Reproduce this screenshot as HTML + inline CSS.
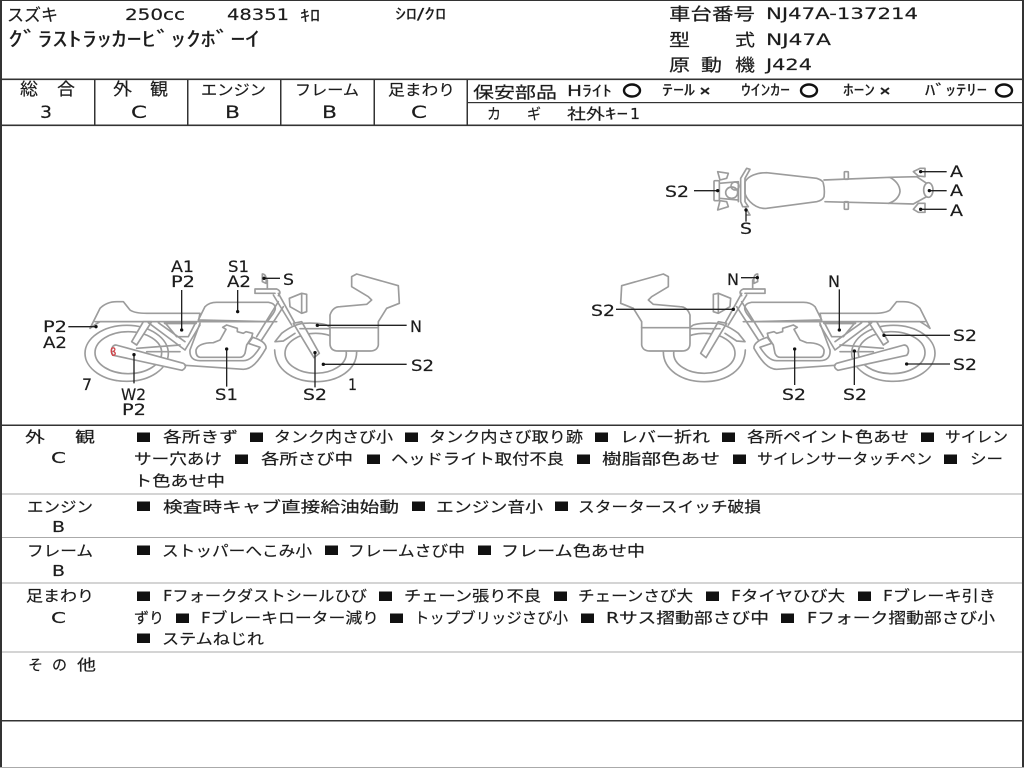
<!DOCTYPE html>
<html lang="ja"><head><meta charset="utf-8"><title>Inspection sheet</title>
<style>
html,body{margin:0;padding:0;background:#fff;width:1024px;height:768px;overflow:hidden}
svg{display:block}
text{font-family:"DejaVu Sans","Noto Sans CJK JP",sans-serif;font-size:15px;fill:#1c1c1c;stroke:#1c1c1c;stroke-width:.18}
.l text{font-size:16px}
.big text{font-size:17px}
.b{fill:none;stroke:#9c9c9c;stroke-width:5;stroke-linejoin:round;stroke-linecap:round}
.w{fill:#fff}
.ld{stroke:#222;stroke-width:4;fill:none}
.d{fill:#111}
</style></head><body>
<svg xmlns="http://www.w3.org/2000/svg" width="1024" height="768" viewBox="0 0 1024 768">
<rect width="1024" height="768" fill="#fff"/>
<g fill="#333">
<rect x="0" y="0" width="1024" height="1"/>
<rect x="0" y="0" width="2" height="768"/>
<rect x="1022" y="0" width="2" height="768"/>
<rect x="0" y="78.500" width="1024" height="1.600"/>
<rect x="0" y="124.500" width="1024" height="1.600"/>
<rect x="467" y="102" width="557" height="1.200"/>
<rect x="94" y="79" width="1.500" height="46"/>
<rect x="187" y="79" width="1.500" height="46"/>
<rect x="280" y="79" width="1.500" height="46"/>
<rect x="373.500" y="79" width="1.500" height="46"/>
<rect x="466.500" y="79" width="1.500" height="46"/>
<rect x="0" y="424.500" width="1024" height="1.500"/>
<rect x="0" y="720" width="1024" height="1.500"/>
</g>
<g fill="#aaa">
<rect x="2" y="493.500" width="1020" height="1"/>
<rect x="2" y="537" width="1020" height="1"/>
<rect x="2" y="582.500" width="1020" height="1"/>
<rect x="2" y="651.500" width="1020" height="1"/>
<rect x="0" y="767" width="1024" height="1"/>
</g>
<!-- header -->
<g>
<text x="7" y="21" style="font-size:17px" textLength="51" lengthAdjust="spacingAndGlyphs">スズキ</text>
<text x="125" y="20" style="font-size:16px" textLength="60" lengthAdjust="spacingAndGlyphs">250cc</text>
<text x="227" y="20" style="font-size:16px" textLength="62" lengthAdjust="spacingAndGlyphs">48351</text>
<text x="300" y="21" style="font-size:16px" textLength="20" lengthAdjust="spacingAndGlyphs">ｷﾛ</text>
<text x="395" y="19" textLength="51" lengthAdjust="spacingAndGlyphs">ｼﾛ/ｸﾛ</text>
<text x="8" y="46" style="font-size:20px" textLength="252" lengthAdjust="spacingAndGlyphs">ｸﾞﾗｽﾄﾗｯｶｰﾋﾞｯｸﾎﾞｰｲ</text>
<text x="669" y="20" style="font-size:17px" textLength="86" lengthAdjust="spacingAndGlyphs">車台番号</text>
<text x="766" y="19" style="font-size:16px" textLength="152" lengthAdjust="spacingAndGlyphs">NJ47A-137214</text>
<text x="669" y="46" style="font-size:17px" textLength="21" lengthAdjust="spacingAndGlyphs">型</text>
<text x="735" y="46" style="font-size:17px" textLength="20" lengthAdjust="spacingAndGlyphs">式</text>
<text x="766" y="45" style="font-size:16px" textLength="65" lengthAdjust="spacingAndGlyphs">NJ47A</text>
<text x="669" y="71" style="font-size:17px" textLength="21" lengthAdjust="spacingAndGlyphs">原</text>
<text x="701" y="71" style="font-size:17px" textLength="21" lengthAdjust="spacingAndGlyphs">動</text>
<text x="735" y="71" style="font-size:17px" textLength="20" lengthAdjust="spacingAndGlyphs">機</text>
<text x="766" y="70" style="font-size:16px" textLength="46" lengthAdjust="spacingAndGlyphs">J424</text>
</g>
<!-- rating row -->
<g>
<text x="20" y="95" style="font-size:17px" textLength="18" lengthAdjust="spacingAndGlyphs">総</text>
<text x="57" y="95" style="font-size:17px" textLength="18" lengthAdjust="spacingAndGlyphs">合</text>
<text x="113" y="95" style="font-size:17px" textLength="19" lengthAdjust="spacingAndGlyphs">外</text>
<text x="150" y="95" style="font-size:17px" textLength="18" lengthAdjust="spacingAndGlyphs">観</text>
<text x="201" y="95" textLength="65" lengthAdjust="spacingAndGlyphs">エンジン</text>
<text x="295" y="95" textLength="64" lengthAdjust="spacingAndGlyphs">フレーム</text>
<text x="388" y="95" textLength="67" lengthAdjust="spacingAndGlyphs">足まわり</text>
<g class="big">
<text x="40" y="118" textLength="12" lengthAdjust="spacingAndGlyphs">3</text>
<text x="131" y="118" textLength="16" lengthAdjust="spacingAndGlyphs">C</text>
<text x="225" y="118" textLength="15" lengthAdjust="spacingAndGlyphs">B</text>
<text x="322" y="118" textLength="15" lengthAdjust="spacingAndGlyphs">B</text>
<text x="411" y="118" textLength="16" lengthAdjust="spacingAndGlyphs">C</text>
</g>
<text x="473" y="98" style="font-size:16px" textLength="84" lengthAdjust="spacingAndGlyphs">保安部品</text>
<text x="567" y="96" textLength="45" lengthAdjust="spacingAndGlyphs">Hﾗｲﾄ</text>
<ellipse cx="632" cy="90.500" rx="8" ry="6" fill="none" stroke="#111" stroke-width="2.400"/>
<text x="662" y="95" textLength="33" lengthAdjust="spacingAndGlyphs">ﾃｰﾙ</text>
<path d="M701 88L709 94M709 88L701 94" stroke="#222" stroke-width="2"/>
<text x="741" y="95" textLength="49" lengthAdjust="spacingAndGlyphs">ｳｲﾝｶｰ</text>
<ellipse cx="809" cy="90.500" rx="8" ry="6" fill="none" stroke="#111" stroke-width="2.400"/>
<text x="843" y="95" textLength="32" lengthAdjust="spacingAndGlyphs">ﾎｰﾝ</text>
<path d="M881 88L889 94M889 88L881 94" stroke="#222" stroke-width="2"/>
<text x="925" y="95" textLength="62" lengthAdjust="spacingAndGlyphs">ﾊﾞｯﾃﾘｰ</text>
<ellipse cx="1004" cy="90.500" rx="8" ry="6" fill="none" stroke="#111" stroke-width="2.400"/>
<text x="487" y="119" textLength="14" lengthAdjust="spacingAndGlyphs">カ</text>
<text x="527" y="119" textLength="14" lengthAdjust="spacingAndGlyphs">ギ</text>
<text x="567" y="119" textLength="38" lengthAdjust="spacingAndGlyphs">社外</text>
<text x="605" y="119" textLength="23" lengthAdjust="spacingAndGlyphs">ｷｰ</text>
<text x="630" y="119" textLength="10" lengthAdjust="spacingAndGlyphs">1</text>
</g>
<!-- motorcycle artwork -->
<defs>
<g id="bike">
<ellipse class="b" cx="290" cy="310" rx="125" ry="84"/>
<ellipse class="b" cx="295" cy="308" rx="100" ry="63"/>
<path class="b" d="M734 300C736 360 790 395 857 395C925 395 980 360 980 305"/>
<ellipse class="b" cx="857" cy="310" rx="92" ry="60"/>
<path class="b w" d="M180 235L210 175C225 160 245 155 260 155L280 155L300 180C310 187 330 190 350 190L510 190L505 215L210 215C198 222 188 228 180 235Z"/>
<path class="b w" d="M505 210L525 170C535 160 548 157 560 157L715 157C735 160 742 172 730 190L712 215Z"/>
<path class="b" d="M195 215L740 215"/>
<path class="b w" d="M305 275L340 215L365 215L320 285Z"/>
<path class="b" d="M355 218L465 300L510 225M385 218L465 275M405 218L440 260L475 260L497 218"/>
<path class="b" d="M405 219L497 219" style="stroke-width:8"/>
<path class="b" d="M320 295L450 285M350 305L450 305"/>
<path class="b w" d="M258 285L460 340C470 345 468 355 456 361L250 316C240 305 245 285 258 285Z"/>
<path class="b" d="M465 346L640 358C665 358 685 335 708 295C710 280 690 268 668 262L655 280L690 292C675 315 660 332 640 332L510 332C490 332 478 322 480 300L510 220"/>
<path class="b" d="M498 300Q505 278 550 278L570 270L588 238L578 232L590 225L622 235L622 245L640 250L648 245L668 250L665 262L650 285L645 310Q640 322 630 322L510 322Q497 320 498 300Z"/>
<path class="b" d="M730 135L785 225M745 130L795 220M745 155L680 260M760 170L695 270"/>
<path class="b w" d="M790 220L815 215L868 310L852 323Z"/>
<path class="b" d="M675 117L740 117C752 122 752 130 745 137M675 117L675 130L735 130M712 117L712 90M697 72C708 72 710 85 708 100L697 95Z"/>
<path class="b" d="M778 145L815 130L830 133L830 185L815 190L780 170ZM815 130L815 190"/>
<path class="b" d="M735 275L755 250C775 235 800 222 820 220C845 218 875 220 890 225L900 232M735 275L760 273L795 250M810 236L900 236"/>
<path class="b w" d="M900 195C905 180 915 170 930 170L1010 163L1025 150L1015 140L965 110L965 80L980 72L1105 107L1108 160L1070 175L1045 215L1045 285C1043 298 1032 303 1020 303L925 303C908 303 900 295 900 280Z"/>
<path class="b" d="M900 233L1045 233"/>
</g>
</defs>
<g transform="translate(30 250) scale(.33333)">
<use href="#bike"/>
<path d="M245 295C255 290 258 300 250 304C258 308 258 316 248 316C243 310 243 300 245 295Z" fill="none" stroke="#d0454a" stroke-width="4"/>
<path class="ld" d="M455 120V240M623 120V185M702 85H750M115 230H198M1130 226H862M1130 343H880M312 400V314M590 410V297M855 412V308"/>
<g class="d"><circle cx="455" cy="240" r="5"/><circle cx="623" cy="185" r="5"/><circle cx="702" cy="85" r="5"/><circle cx="198" cy="230" r="5"/><circle cx="862" cy="226" r="5"/><circle cx="880" cy="343" r="5"/><circle cx="312" cy="314" r="5"/><circle cx="590" cy="297" r="5"/><circle cx="855" cy="308" r="5"/></g>
</g>
<g transform="translate(580 260) scale(.33333)">
<g transform="translate(1230 -30) scale(-1 1)"><use href="#bike"/></g>
<path class="ld" d="M483 53H532M778 88V210M108 148H460M1110 226H912M1110 312H980M644 375V267M823 375V273"/>
<g class="d"><circle cx="532" cy="53" r="5"/><circle cx="778" cy="210" r="5"/><circle cx="460" cy="148" r="5"/><circle cx="912" cy="226" r="5"/><circle cx="980" cy="312" r="5"/><circle cx="644" cy="267" r="5"/><circle cx="823" cy="273" r="5"/></g>
</g>
<g transform="translate(650 150) scale(.33333)">
<path class="b" d="M720 82L800 80L830 100M715 160L790 162L830 140"/>
<path class="b" d="M285 95C295 78 320 68 350 68L500 85C515 90 520 95 520 100C524 115 524 125 522 140C518 150 510 153 500 155L350 175C330 177 315 170 300 155C292 147 287 138 285 130Z"/>
<path class="b" d="M522 90L720 82C735 90 750 105 750 125C748 140 735 155 715 160L525 155"/>
<ellipse class="b" cx="835" cy="120" rx="14" ry="22"/>
<path class="b" d="M790 65L810 55L825 55L825 80L805 78ZM790 178L805 160L825 160L825 187L805 187Z"/>
<rect class="b" x="583" y="65" width="12" height="23" rx="2"/><rect class="b" x="583" y="155" width="12" height="23" rx="2"/>
<path class="b" d="M272 85L290 55L300 58L285 85L285 155L295 170L278 170L272 155ZM285 170L300 195L290 195"/>
<rect class="b" x="192" y="92" width="16" height="60" rx="3"/>
<path class="b" d="M203 65L235 70L230 85L210 90ZM203 180L235 170L230 155L210 152ZM208 100L265 95M208 145L265 150M265 95L265 155"/>
<ellipse class="b" cx="245" cy="128" rx="18" ry="17"/><circle class="b" cx="255" cy="108" r="12"/>
<path class="ld" d="M132 122H203M288 215V180M890 65H812M890 122H838M890 178H812"/>
<g class="d"><circle cx="203" cy="122" r="5"/><circle cx="288" cy="180" r="5"/><circle cx="812" cy="65" r="5"/><circle cx="838" cy="122" r="5"/><circle cx="812" cy="178" r="5"/></g>
</g>
<!-- bike labels -->
<g class="l">
<text x="171" y="272" textLength="23" lengthAdjust="spacingAndGlyphs">A1</text>
<text x="171" y="287" textLength="24" lengthAdjust="spacingAndGlyphs">P2</text>
<text x="228" y="272" textLength="21" lengthAdjust="spacingAndGlyphs">S1</text>
<text x="227" y="287" textLength="24" lengthAdjust="spacingAndGlyphs">A2</text>
<text x="283" y="285" textLength="11" lengthAdjust="spacingAndGlyphs">S</text>
<text x="43" y="332" textLength="24" lengthAdjust="spacingAndGlyphs">P2</text>
<text x="43" y="348" textLength="24" lengthAdjust="spacingAndGlyphs">A2</text>
<text x="410" y="332" textLength="12" lengthAdjust="spacingAndGlyphs">N</text>
<text x="411" y="371" textLength="23" lengthAdjust="spacingAndGlyphs">S2</text>
<text x="82" y="390" textLength="10" lengthAdjust="spacingAndGlyphs">7</text>
<text x="348" y="390" textLength="9" lengthAdjust="spacingAndGlyphs">1</text>
<text x="121" y="400" textLength="25" lengthAdjust="spacingAndGlyphs">W2</text>
<text x="122" y="415" textLength="24" lengthAdjust="spacingAndGlyphs">P2</text>
<text x="215" y="400" textLength="23" lengthAdjust="spacingAndGlyphs">S1</text>
<text x="303" y="400" textLength="24" lengthAdjust="spacingAndGlyphs">S2</text>
<text x="727" y="285" textLength="12" lengthAdjust="spacingAndGlyphs">N</text>
<text x="828" y="287" textLength="12" lengthAdjust="spacingAndGlyphs">N</text>
<text x="591" y="316" textLength="24" lengthAdjust="spacingAndGlyphs">S2</text>
<text x="953" y="341" textLength="24" lengthAdjust="spacingAndGlyphs">S2</text>
<text x="953" y="370" textLength="24" lengthAdjust="spacingAndGlyphs">S2</text>
<text x="782" y="400" textLength="24" lengthAdjust="spacingAndGlyphs">S2</text>
<text x="843" y="400" textLength="24" lengthAdjust="spacingAndGlyphs">S2</text>
<text x="665" y="197" textLength="24" lengthAdjust="spacingAndGlyphs">S2</text>
<text x="740" y="234" textLength="12" lengthAdjust="spacingAndGlyphs">S</text>
<text x="950" y="177" textLength="13" lengthAdjust="spacingAndGlyphs">A</text>
<text x="950" y="196" textLength="13" lengthAdjust="spacingAndGlyphs">A</text>
<text x="950" y="216" textLength="13" lengthAdjust="spacingAndGlyphs">A</text>
</g>
<!-- category labels -->
<g>
<text x="25" y="442" textLength="20" lengthAdjust="spacingAndGlyphs">外</text>
<text x="75" y="442" textLength="20" lengthAdjust="spacingAndGlyphs">観</text>
<text x="51" y="463" textLength="15" lengthAdjust="spacingAndGlyphs">C</text>
<text x="27" y="512" textLength="66" lengthAdjust="spacingAndGlyphs">エンジン</text>
<text x="52" y="532" textLength="13" lengthAdjust="spacingAndGlyphs">B</text>
<text x="27" y="556" textLength="66" lengthAdjust="spacingAndGlyphs">フレーム</text>
<text x="52" y="576" textLength="13" lengthAdjust="spacingAndGlyphs">B</text>
<text x="26" y="601" textLength="68" lengthAdjust="spacingAndGlyphs">足まわり</text>
<text x="51" y="623" textLength="15" lengthAdjust="spacingAndGlyphs">C</text>
<text x="28" y="670" textLength="15" lengthAdjust="spacingAndGlyphs">そ</text>
<text x="52" y="670" textLength="15" lengthAdjust="spacingAndGlyphs">の</text>
<text x="77" y="670" textLength="19" lengthAdjust="spacingAndGlyphs">他</text>
</g>
<!-- squares -->
<g fill="#111">
<rect x="137" y="432.500" width="13" height="9.500"/><rect x="250" y="432.500" width="13" height="9.500"/><rect x="405" y="432.500" width="13" height="9.500"/><rect x="595" y="432.500" width="13" height="9.500"/><rect x="722" y="432.500" width="13" height="9.500"/><rect x="921" y="432.500" width="13" height="9.500"/>
<rect x="235" y="454.500" width="13" height="9.500"/><rect x="367" y="454.500" width="13" height="9.500"/><rect x="577" y="454.500" width="13" height="9.500"/><rect x="733" y="454.500" width="13" height="9.500"/><rect x="944" y="454.500" width="13" height="9.500"/>
<rect x="137" y="501.500" width="13" height="9.500"/><rect x="412" y="501.500" width="13" height="9.500"/><rect x="555" y="501.500" width="13" height="9.500"/>
<rect x="137" y="545.500" width="13" height="9.500"/><rect x="325" y="545.500" width="13" height="9.500"/><rect x="478" y="545.500" width="13" height="9.500"/>
<rect x="137" y="591.500" width="13" height="9.500"/><rect x="379" y="591.500" width="13" height="9.500"/><rect x="554" y="591.500" width="13" height="9.500"/><rect x="706" y="591.500" width="13" height="9.500"/><rect x="858" y="591.500" width="13" height="9.500"/>
<rect x="176" y="613.500" width="13" height="9.500"/><rect x="390" y="613.500" width="13" height="9.500"/><rect x="581" y="613.500" width="13" height="9.500"/><rect x="781" y="613.500" width="13" height="9.500"/>
<rect x="137" y="633.500" width="13" height="9.500"/>
</g>
<!-- items -->
<g>
<text x="163" y="442" textLength="75" lengthAdjust="spacingAndGlyphs">各所きず</text>
<text x="274" y="442" textLength="119" lengthAdjust="spacingAndGlyphs">タンク内さび小</text>
<text x="429" y="442" textLength="154" lengthAdjust="spacingAndGlyphs">タンク内さび取り跡</text>
<text x="620" y="442" textLength="90" lengthAdjust="spacingAndGlyphs">レバー折れ</text>
<text x="747" y="442" textLength="162" lengthAdjust="spacingAndGlyphs">各所ペイント色あせ</text>
<text x="945" y="442" textLength="63" lengthAdjust="spacingAndGlyphs">サイレン</text>
<text x="134" y="464" textLength="88" lengthAdjust="spacingAndGlyphs">サー穴あけ</text>
<text x="261" y="464" textLength="92" lengthAdjust="spacingAndGlyphs">各所さび中</text>
<text x="391" y="464" textLength="173" lengthAdjust="spacingAndGlyphs">ヘッドライト取付不良</text>
<text x="602" y="464" textLength="118" lengthAdjust="spacingAndGlyphs">樹脂部色あせ</text>
<text x="757" y="464" textLength="175" lengthAdjust="spacingAndGlyphs">サイレンサータッチペン</text>
<text x="970" y="464" textLength="33" lengthAdjust="spacingAndGlyphs">シー</text>
<text x="134" y="486" textLength="91" lengthAdjust="spacingAndGlyphs">ト色あせ中</text>
<text x="163" y="512" textLength="236" lengthAdjust="spacingAndGlyphs">検査時キャブ直接給油始動</text>
<text x="436" y="512" textLength="107" lengthAdjust="spacingAndGlyphs">エンジン音小</text>
<text x="578" y="512" textLength="183" lengthAdjust="spacingAndGlyphs">スタータースイッチ破損</text>
<text x="162" y="556" textLength="150" lengthAdjust="spacingAndGlyphs">ストッパーへこみ小</text>
<text x="348" y="556" textLength="117" lengthAdjust="spacingAndGlyphs">フレームさび中</text>
<text x="501" y="556" textLength="144" lengthAdjust="spacingAndGlyphs">フレーム色あせ中</text>
<text x="163" y="601" textLength="204" lengthAdjust="spacingAndGlyphs">Fフォークダストシールひび</text>
<text x="404" y="601" textLength="137" lengthAdjust="spacingAndGlyphs">チェーン張り不良</text>
<text x="578" y="601" textLength="115" lengthAdjust="spacingAndGlyphs">チェーンさび大</text>
<text x="731" y="601" textLength="114" lengthAdjust="spacingAndGlyphs">Fタイヤひび大</text>
<text x="883" y="601" textLength="113" lengthAdjust="spacingAndGlyphs">Fブレーキ引き</text>
<text x="134" y="623" textLength="30" lengthAdjust="spacingAndGlyphs">ずり</text>
<text x="201" y="623" textLength="178" lengthAdjust="spacingAndGlyphs">Fブレーキローター減り</text>
<text x="414" y="623" textLength="154" lengthAdjust="spacingAndGlyphs">トップブリッジさび小</text>
<text x="606" y="623" textLength="163" lengthAdjust="spacingAndGlyphs">Rサス摺動部さび中</text>
<text x="807" y="623" textLength="188" lengthAdjust="spacingAndGlyphs">Fフォーク摺動部さび小</text>
<text x="162" y="644" textLength="102" lengthAdjust="spacingAndGlyphs">ステムねじれ</text>
</g>
</svg>
</body></html>
